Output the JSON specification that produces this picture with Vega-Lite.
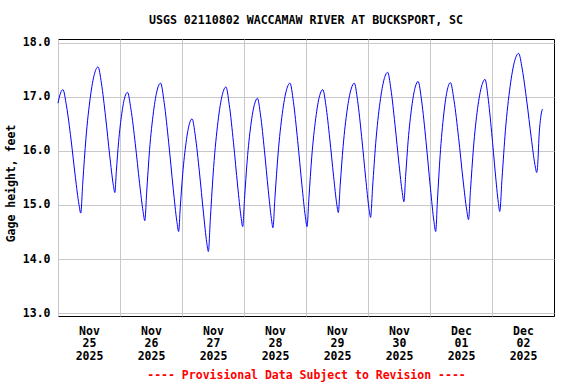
{
  "$schema": "https://vega.github.io/schema/vega-lite/v6.json",
  "width": 496,
  "height": 277,
  "autosize": {"type": "none"},
  "padding": {"left": 58, "top": 39, "right": 22, "bottom": 68},
  "background": "white",
  "title": {
    "text": "USGS 02110802 WACCAMAW RIVER AT BUCKSPORT, SC",
    "font": "DejaVu Sans Mono",
    "fontSize": 11.6,
    "fontWeight": "bold",
    "color": "black",
    "anchor": "middle",
    "offset": 10
  },
  "config": {
    "view": {"stroke": "black", "strokeWidth": 1},
    "axis": {
      "labelFont": "DejaVu Sans Mono",
      "titleFont": "DejaVu Sans Mono",
      "labelFontSize": 11.5,
      "titleFontSize": 11.5,
      "labelFontWeight": "bold",
      "titleFontWeight": "bold",
      "labelColor": "black",
      "titleColor": "black",
      "gridColor": "#C8C8C8",
      "gridOpacity": 1,
      "gridWidth": 1,
      "ticks": false,
      "domain": false
    }
  },
  "data": {
    "values": [
      {"time": "2025-11-25T00:00", "height": 16.88},
      {"time": "2025-11-25T01:00", "height": 17.07},
      {"time": "2025-11-25T01:54", "height": 17.13},
      {"time": "2025-11-25T03:17", "height": 16.83},
      {"time": "2025-11-25T05:01", "height": 16.22},
      {"time": "2025-11-25T06:44", "height": 15.51},
      {"time": "2025-11-25T08:07", "height": 15.01},
      {"time": "2025-11-25T08:48", "height": 14.85},
      {"time": "2025-11-25T09:36", "height": 15.42},
      {"time": "2025-11-25T10:49", "height": 16.23},
      {"time": "2025-11-25T12:29", "height": 16.98},
      {"time": "2025-11-25T14:10", "height": 17.43},
      {"time": "2025-11-25T15:30", "height": 17.55},
      {"time": "2025-11-25T16:48", "height": 17.25},
      {"time": "2025-11-25T18:26", "height": 16.62},
      {"time": "2025-11-25T20:03", "height": 15.90},
      {"time": "2025-11-25T21:21", "height": 15.39},
      {"time": "2025-11-25T22:00", "height": 15.23},
      {"time": "2025-11-25T22:35", "height": 15.62},
      {"time": "2025-11-25T23:28", "height": 16.17},
      {"time": "2025-11-26T00:42", "height": 16.69},
      {"time": "2025-11-26T01:55", "height": 17.00},
      {"time": "2025-11-26T02:54", "height": 17.08},
      {"time": "2025-11-26T04:14", "height": 16.77},
      {"time": "2025-11-26T05:55", "height": 16.13},
      {"time": "2025-11-26T07:35", "height": 15.40},
      {"time": "2025-11-26T08:56", "height": 14.88},
      {"time": "2025-11-26T09:36", "height": 14.71},
      {"time": "2025-11-26T10:20", "height": 15.24},
      {"time": "2025-11-26T11:26", "height": 16.01},
      {"time": "2025-11-26T12:58", "height": 16.72},
      {"time": "2025-11-26T14:29", "height": 17.14},
      {"time": "2025-11-26T15:42", "height": 17.25},
      {"time": "2025-11-26T17:06", "height": 16.89},
      {"time": "2025-11-26T18:51", "height": 16.15},
      {"time": "2025-11-26T20:36", "height": 15.30},
      {"time": "2025-11-26T22:00", "height": 14.70},
      {"time": "2025-11-26T22:42", "height": 14.51},
      {"time": "2025-11-26T23:19", "height": 14.95},
      {"time": "2025-11-27T00:16", "height": 15.57},
      {"time": "2025-11-27T01:34", "height": 16.15},
      {"time": "2025-11-27T02:52", "height": 16.50},
      {"time": "2025-11-27T03:54", "height": 16.59},
      {"time": "2025-11-27T05:10", "height": 16.27},
      {"time": "2025-11-27T06:44", "height": 15.61},
      {"time": "2025-11-27T08:19", "height": 14.85},
      {"time": "2025-11-27T09:34", "height": 14.31},
      {"time": "2025-11-27T10:12", "height": 14.14},
      {"time": "2025-11-27T11:01", "height": 14.78},
      {"time": "2025-11-27T12:14", "height": 15.69},
      {"time": "2025-11-27T13:56", "height": 16.54},
      {"time": "2025-11-27T15:38", "height": 17.04},
      {"time": "2025-11-27T17:00", "height": 17.18},
      {"time": "2025-11-27T18:18", "height": 16.85},
      {"time": "2025-11-27T19:56", "height": 16.15},
      {"time": "2025-11-27T21:33", "height": 15.35},
      {"time": "2025-11-27T22:51", "height": 14.78},
      {"time": "2025-11-27T23:30", "height": 14.60},
      {"time": "2025-11-28T00:11", "height": 15.10},
      {"time": "2025-11-28T01:13", "height": 15.81},
      {"time": "2025-11-28T02:38", "height": 16.47},
      {"time": "2025-11-28T04:04", "height": 16.86},
      {"time": "2025-11-28T05:12", "height": 16.97},
      {"time": "2025-11-28T06:24", "height": 16.66},
      {"time": "2025-11-28T07:54", "height": 16.01},
      {"time": "2025-11-28T09:24", "height": 15.27},
      {"time": "2025-11-28T10:36", "height": 14.75},
      {"time": "2025-11-28T11:12", "height": 14.58},
      {"time": "2025-11-28T11:59", "height": 15.14},
      {"time": "2025-11-28T13:11", "height": 15.94},
      {"time": "2025-11-28T14:50", "height": 16.69},
      {"time": "2025-11-28T16:29", "height": 17.13},
      {"time": "2025-11-28T17:48", "height": 17.25},
      {"time": "2025-11-28T19:07", "height": 16.91},
      {"time": "2025-11-28T20:46", "height": 16.19},
      {"time": "2025-11-28T22:25", "height": 15.37},
      {"time": "2025-11-28T23:44", "height": 14.79},
      {"time": "2025-11-29T00:24", "height": 14.60},
      {"time": "2025-11-29T01:08", "height": 15.13},
      {"time": "2025-11-29T02:14", "height": 15.89},
      {"time": "2025-11-29T03:46", "height": 16.60},
      {"time": "2025-11-29T05:17", "height": 17.02},
      {"time": "2025-11-29T06:30", "height": 17.13},
      {"time": "2025-11-29T07:42", "height": 16.84},
      {"time": "2025-11-29T09:12", "height": 16.22},
      {"time": "2025-11-29T10:42", "height": 15.52},
      {"time": "2025-11-29T11:54", "height": 15.02},
      {"time": "2025-11-29T12:30", "height": 14.86},
      {"time": "2025-11-29T13:14", "height": 15.36},
      {"time": "2025-11-29T14:22", "height": 16.08},
      {"time": "2025-11-29T15:55", "height": 16.75},
      {"time": "2025-11-29T17:28", "height": 17.14},
      {"time": "2025-11-29T18:42", "height": 17.25},
      {"time": "2025-11-29T19:58", "height": 16.93},
      {"time": "2025-11-29T21:32", "height": 16.26},
      {"time": "2025-11-29T23:07", "height": 15.49},
      {"time": "2025-11-30T00:22", "height": 14.94},
      {"time": "2025-11-30T01:00", "height": 14.77},
      {"time": "2025-11-30T01:47", "height": 15.33},
      {"time": "2025-11-30T02:59", "height": 16.14},
      {"time": "2025-11-30T04:38", "height": 16.89},
      {"time": "2025-11-30T06:17", "height": 17.33},
      {"time": "2025-11-30T07:36", "height": 17.45},
      {"time": "2025-11-30T08:52", "height": 17.14},
      {"time": "2025-11-30T10:26", "height": 16.49},
      {"time": "2025-11-30T12:01", "height": 15.75},
      {"time": "2025-11-30T13:16", "height": 15.23},
      {"time": "2025-11-30T13:54", "height": 15.06},
      {"time": "2025-11-30T14:34", "height": 15.53},
      {"time": "2025-11-30T15:33", "height": 16.19},
      {"time": "2025-11-30T16:56", "height": 16.81},
      {"time": "2025-11-30T18:18", "height": 17.18},
      {"time": "2025-11-30T19:24", "height": 17.28},
      {"time": "2025-11-30T20:46", "height": 16.92},
      {"time": "2025-11-30T22:28", "height": 16.17},
      {"time": "2025-12-01T00:10", "height": 15.31},
      {"time": "2025-12-01T01:31", "height": 14.70},
      {"time": "2025-12-01T02:12", "height": 14.51},
      {"time": "2025-12-01T02:53", "height": 15.09},
      {"time": "2025-12-01T03:55", "height": 15.91},
      {"time": "2025-12-01T05:20", "height": 16.68},
      {"time": "2025-12-01T06:46", "height": 17.14},
      {"time": "2025-12-01T07:54", "height": 17.26},
      {"time": "2025-12-01T09:18", "height": 16.93},
      {"time": "2025-12-01T11:03", "height": 16.25},
      {"time": "2025-12-01T12:48", "height": 15.46},
      {"time": "2025-12-01T14:12", "height": 14.91},
      {"time": "2025-12-01T14:54", "height": 14.73},
      {"time": "2025-12-01T15:40", "height": 15.27},
      {"time": "2025-12-01T16:49", "height": 16.05},
      {"time": "2025-12-01T18:25", "height": 16.78},
      {"time": "2025-12-01T20:01", "height": 17.20},
      {"time": "2025-12-01T21:18", "height": 17.32},
      {"time": "2025-12-01T22:26", "height": 17.00},
      {"time": "2025-12-01T23:52", "height": 16.34},
      {"time": "2025-12-02T01:17", "height": 15.59},
      {"time": "2025-12-02T02:26", "height": 15.05},
      {"time": "2025-12-02T03:00", "height": 14.88},
      {"time": "2025-12-02T03:53", "height": 15.49},
      {"time": "2025-12-02T05:11", "height": 16.37},
      {"time": "2025-12-02T07:01", "height": 17.19},
      {"time": "2025-12-02T08:50", "height": 17.67},
      {"time": "2025-12-02T10:18", "height": 17.80},
      {"time": "2025-12-02T11:42", "height": 17.51},
      {"time": "2025-12-02T13:27", "height": 16.92},
      {"time": "2025-12-02T15:12", "height": 16.24},
      {"time": "2025-12-02T16:36", "height": 15.75},
      {"time": "2025-12-02T17:18", "height": 15.60},
      {"time": "2025-12-02T17:42", "height": 15.75},
      {"time": "2025-12-02T18:12", "height": 16.26},
      {"time": "2025-12-02T18:54", "height": 16.63},
      {"time": "2025-12-02T19:30", "height": 16.77}
    ]
  },
  "mark": {"type": "line", "color": "#0000FF", "strokeWidth": 1, "interpolate": "monotone"},
  "encoding": {
    "x": {
      "field": "time",
      "type": "temporal",
      "scale": {
        "domain": [
          {"year": 2025, "month": 11, "date": 25},
          {"year": 2025, "month": 12, "date": 3}
        ]
      },
      "axis": {
        "values": [
          {"year": 2025, "month": 11, "date": 25},
          {"year": 2025, "month": 11, "date": 26},
          {"year": 2025, "month": 11, "date": 27},
          {"year": 2025, "month": 11, "date": 28},
          {"year": 2025, "month": 11, "date": 29},
          {"year": 2025, "month": 11, "date": 30},
          {"year": 2025, "month": 12, "date": 1},
          {"year": 2025, "month": 12, "date": 2}
        ],
        "labelExpr": "[timeFormat(datum.value, '%b'), timeFormat(datum.value, '%d'), timeFormat(datum.value, '%Y')]",
        "labelOffset": 31,
        "labelLineHeight": 12.7,
        "labelPadding": 9,
        "labelBaseline": "top",
        "labelFlush": false,
        "labelBound": false,
        "labelOverlap": false,
        "grid": true,
        "title": "---- Provisional Data Subject to Revision ----",
        "titleColor": "#FF0000",
        "titlePadding": 8
      }
    },
    "y": {
      "field": "height",
      "type": "quantitative",
      "scale": {"domain": [12.95, 18.065], "nice": false, "zero": false},
      "axis": {
        "values": [13, 14, 15, 16, 17, 18],
        "format": ".1f",
        "grid": true,
        "labelPadding": 8,
        "title": "Gage height, feet",
        "titlePadding": 6,
        "titleY": 144
      }
    }
  }
}
